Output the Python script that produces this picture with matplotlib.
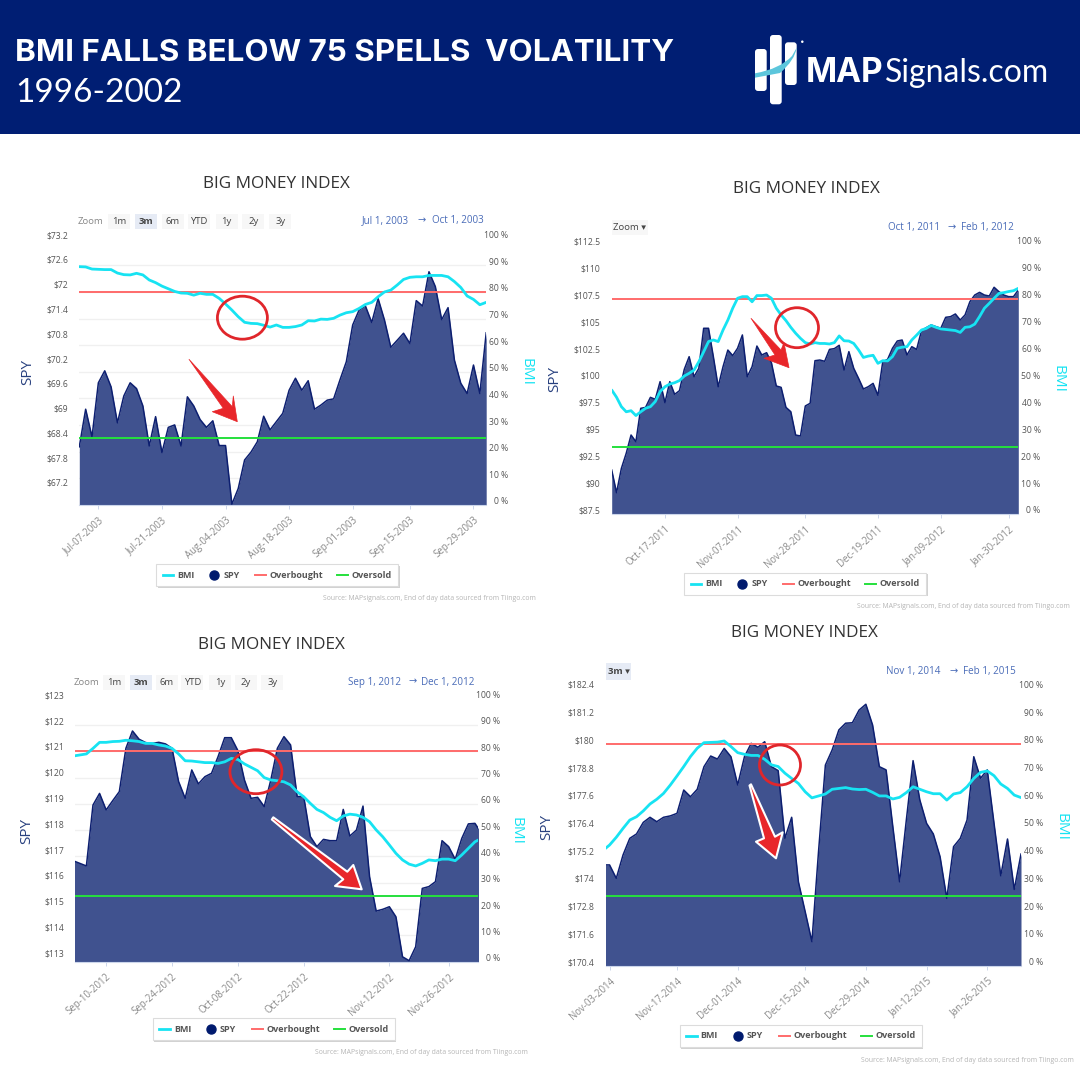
import numpy as np
import matplotlib
matplotlib.use("Agg")
import matplotlib.pyplot as plt
from matplotlib.patches import Rectangle, Ellipse, Polygon, FancyBboxPatch, PathPatch
from matplotlib.path import Path
from matplotlib.transforms import ScaledTranslation

# SPY closes and BMI readings, one value per trading day
spy_2003 = [68.16, 69.07, 68.40, 69.71, 70.00, 69.61, 68.74, 69.39, 69.71, 69.57, 69.15, 68.18, 68.89,
            68.02, 68.63, 68.69, 68.18, 69.37, 69.15, 68.82, 68.63, 68.79, 68.19, 68.19, 66.77, 67.15,
            67.84, 68.03, 68.28, 68.90, 68.57, 68.77, 68.97, 69.53, 69.82, 69.53, 69.76, 69.07, 69.17,
            69.29, 69.32, 69.78, 70.22, 71.11, 71.47, 71.57, 71.17, 71.75, 71.23, 70.57, 70.74, 70.91,
            70.66, 71.70, 71.57, 72.40, 72.04, 71.24, 71.53, 70.26, 69.70, 69.45, 70.14, 69.45, 70.92]
bmi_2003 = [89.5, 89.4, 88.6, 88.5, 88.4, 88.4, 87.1, 86.5, 86.4, 87.0, 86.4, 84.5, 83.5, 82.2, 81.2, 80.2,
            79.6, 79.5, 78.8, 79.5, 79.1, 79.1, 77.6, 75.5, 73.2, 70.7, 68.6, 68.2, 68.1, 67.5, 66.8, 67.6,
            66.7, 66.7, 67.0, 67.6, 69.2, 69.1, 69.8, 69.7, 70.1, 71.3, 72.2, 72.6, 73.8, 75.3, 76.1, 78.2,
            80.0, 80.7, 82.6, 84.7, 85.5, 85.7, 85.7, 86.2, 86.2, 86.2, 85.7, 83.9, 81.7, 78.5, 77.2, 75.2, 76.1]

spy_2011 = [91.59, 89.48, 91.74, 93.14, 94.84, 94.22, 97.32, 97.41, 98.34, 98.16, 99.80, 97.85, 99.80,
            98.62, 98.96, 100.95, 102.12, 100.26, 101.04, 104.76, 104.76, 102.12, 99.33, 101.19, 102.74,
            102.22, 102.90, 104.14, 100.26, 101.19, 103.11, 102.28, 102.49, 101.56, 99.40, 99.27, 97.41,
            97.01, 94.84, 94.75, 97.54, 97.79, 101.75, 101.81, 101.69, 102.80, 102.87, 103.18, 100.88,
            102.59, 101.04, 100.11, 99.12, 99.33, 99.64, 98.53, 101.66, 101.87, 102.90, 103.58, 103.67,
            102.28, 103.05, 102.80, 104.54, 104.82, 105.07, 104.91, 104.76, 105.78, 105.84, 106.09, 105.53,
            106.00, 107.23, 107.85, 108.10, 107.85, 107.76, 108.57, 108.16, 107.85, 107.70, 107.70, 108.32]
bmi_2011 = [46.1, 43.4, 39.9, 38.0, 38.4, 36.6, 38.0, 39.3, 39.9, 41.8, 45.5, 47.3, 48.3, 48.8, 49.6, 51.3,
            52.3, 53.5, 56.6, 60.3, 64.1, 64.7, 64.1, 68.4, 72.1, 76.5, 80.2, 80.8, 80.8, 78.9, 81.2, 81.2,
            81.4, 80.2, 76.5, 74.0, 71.9, 69.4, 67.2, 65.3, 63.7, 63.2, 63.7, 63.4, 63.4, 63.2, 63.7, 66.2,
            64.4, 64.3, 63.4, 61.0, 58.2, 58.7, 59.0, 56.0, 57.0, 56.9, 58.5, 61.6, 62.0, 62.2, 64.7, 66.5,
            68.4, 69.0, 70.1, 69.4, 68.8, 68.6, 68.4, 68.2, 67.5, 69.4, 69.6, 70.6, 73.4, 76.5, 78.3, 80.2,
            82.0, 82.3, 82.7, 83.0, 83.9]

spy_2012 = [116.72, 116.62, 116.52, 118.88, 119.33, 118.69, 119.05, 119.40, 121.08, 121.75, 121.43, 121.30,
            121.27, 121.31, 121.25, 121.08, 119.79, 119.14, 120.24, 119.70, 119.98, 120.11, 120.76, 121.49,
            121.49, 120.99, 119.85, 119.14, 119.18, 118.82, 119.85, 121.08, 121.53, 121.21, 119.21, 119.21,
            117.66, 117.27, 117.55, 117.50, 117.50, 118.71, 117.68, 117.91, 118.84, 116.10, 114.77, 114.84,
            114.94, 114.55, 113.00, 112.85, 113.39, 115.65, 115.72, 115.91, 117.50, 117.27, 116.78, 117.59,
            118.15, 118.17, 117.78]
bmi_2012 = [78.2, 78.6, 79.0, 81.1, 83.4, 83.4, 83.7, 83.8, 84.2, 84.0, 83.7, 83.0, 83.0, 82.4, 82.0, 81.1,
            79.0, 76.4, 76.3, 76.0, 75.7, 75.7, 75.4, 76.0, 77.3, 76.9, 75.2, 73.9, 72.6, 70.0, 69.1, 68.8,
            68.4, 67.2, 64.6, 62.7, 60.2, 57.9, 56.7, 54.9, 53.6, 55.4, 56.1, 55.8, 54.9, 53.2, 50.1, 47.5,
            44.4, 41.2, 38.7, 37.1, 36.4, 37.4, 38.7, 38.4, 39.0, 39.0, 38.4, 40.6, 43.1, 45.6, 46.9]

spy_2014 = [174.76, 174.76, 174.18, 175.19, 175.91, 176.10, 176.60, 176.82, 176.63, 176.82, 176.88, 176.99,
            178.00, 177.71, 178.03, 179.01, 179.47, 179.34, 179.80, 179.44, 178.22, 179.44, 180.02, 179.85,
            180.09, 179.01, 178.84, 175.91, 176.82, 174.03, 172.74, 171.44, 175.40, 179.08, 179.73, 180.60,
            180.89, 180.91, 181.46, 181.71, 180.81, 179.01, 178.87, 176.41, 174.03, 176.70, 179.27, 177.57,
            176.56, 176.10, 175.12, 173.31, 175.55, 175.91, 176.70, 179.44, 178.51, 178.87, 176.56, 174.29,
            175.88, 173.70, 175.23]
bmi_2014 = [41.5, 43.5, 46.3, 49.5, 52.5, 53.7, 55.8, 58.3, 60.0, 62.1, 65.1, 68.4, 71.8, 75.4, 78.4, 80.4,
            80.5, 80.6, 81.0, 79.0, 76.8, 76.2, 75.8, 75.8, 74.4, 72.4, 71.8, 69.4, 67.5, 65.7, 62.7, 60.5,
            61.2, 61.9, 63.6, 63.9, 64.2, 63.7, 63.5, 63.6, 62.5, 61.2, 61.2, 60.1, 60.7, 62.4, 64.5, 63.6,
            62.7, 62.0, 62.0, 59.7, 61.9, 62.4, 64.5, 67.5, 69.7, 70.2, 68.5, 65.5, 63.9, 61.5, 60.6]

# left axis labels
spy_ticks_2003 = [73.2, 72.6, 72, 71.4, 70.8, 70.2, 69.6, 69, 68.4, 67.8, 67.2]
spy_ticks_2011 = [112.5, 110, 107.5, 105, 102.5, 100, 97.5, 95, 92.5, 90, 87.5]
spy_ticks_2012 = [123, 122, 121, 120, 119, 118, 117, 116, 115, 114, 113]
spy_ticks_2014 = [182.4, 181.2, 180, 178.8, 177.6, 176.4, 175.2, 174, 172.8, 171.6, 170.4]

# dates under each chart
dates_2003 = ["Jul-07-2003", "Jul-21-2003", "Aug-04-2003", "Aug-18-2003", "Sep-01-2003", "Sep-15-2003", "Sep-29-2003"]
dates_2011 = ["Oct-17-2011", "Nov-07-2011", "Nov-28-2011", "Dec-19-2011", "Jan-09-2012", "Jan-30-2012"]
dates_2012 = ["Sep-10-2012", "Sep-24-2012", "Oct-08-2012", "Oct-22-2012", "Nov-12-2012", "Nov-26-2012"]
dates_2014 = ["Nov-03-2014", "Nov-17-2014", "Dec-01-2014", "Dec-15-2014", "Dec-29-2014", "Jan-12-2015", "Jan-26-2015"]

# trading day number of each date above
days_2003 = [3, 13, 23, 33, 43, 52, 62]
days_2011 = [11, 26, 40, 55, 68, 82]
days_2012 = [5, 15, 25, 35, 48, 57]
days_2014 = [1, 11, 20, 30, 39, 48, 57]

overbought = 80
oversold = 25
bmi_ticks = [0, 10, 20, 30, 40, 50, 60, 70, 80, 90, 100]

NAVY = "#001e73"
AREA = "#40528f"
SPY_LINE = "#0d1f70"
CYAN = "#17e3f2"
RED_LINE = "#ff6b6b"
GREEN_LINE = "#25e03c"
ARROW = "#e8262a"
LABEL = "#555555"
FONT = "Open Sans"

plt.rcParams["font.family"] = [FONT, "DejaVu Sans"]

SIZE = 1080
fig = plt.figure(figsize=(10.8, 10.8), dpi=100, facecolor="white")


def add_panel(box, spy, bmi, spy_ticks, spy_lim, days, dates, xlim, spy_fmt):
    # box is left, top, right, bottom in pixels of the picture
    left, top, right, bottom = box
    ax = fig.add_axes([left / SIZE, 1 - bottom / SIZE, (right - left) / SIZE, (bottom - top) / SIZE])
    ax.set_xlim(*xlim)
    ax.set_ylim(*spy_lim)
    ax.fill_between(np.arange(len(spy)), spy, spy_lim[0], color=AREA, lw=0, zorder=2)
    ax.plot(np.arange(len(spy)), spy, color=SPY_LINE, lw=1.1, zorder=3)

    for s in ["top", "left", "right"]:
        ax.spines[s].set_visible(False)
    ax.spines["bottom"].set_color("#ccd6eb")

    ax.set_xticks(days)
    ax.set_xticklabels(dates, rotation=42, ha="right", va="top", rotation_mode="anchor",
                       fontsize=6.9, color="#8a8a8a")
    ax.tick_params(axis="x", length=3, width=0.7, color="#ccd6eb", pad=4)

    # gridlines belong to the percent axis, labels to the dollar axis
    ax.set_yticks(spy_ticks)
    ax.set_yticklabels([spy_fmt % v for v in spy_ticks], fontsize=6.2, color=LABEL)
    ax.set_yticks(np.linspace(spy_lim[0], spy_lim[1], 11), minor=True)
    ax.grid(True, axis="y", which="minor", color="#f0f0f0", lw=1)
    ax.set_axisbelow(True)
    ax.tick_params(axis="y", which="both", length=0, pad=8)

    ax2 = ax.twinx()
    ax2.set_ylim(0, 100)
    ax2.plot(np.arange(len(bmi)), bmi, color=CYAN, lw=2, zorder=4, solid_capstyle="round")
    ax2.axhline(overbought, color=RED_LINE, lw=1.4, zorder=3)
    ax2.axhline(oversold, color=GREEN_LINE, lw=1.4, zorder=3)
    for s in ax2.spines.values():
        s.set_visible(False)
    ax2.set_yticks(bmi_ticks)
    ax2.set_yticklabels(["%d %%" % v for v in bmi_ticks], fontsize=6.2, color=LABEL, ha="right")
    ax2.tick_params(axis="y", length=0, pad=16)

    # highcharts puts its labels a little above the line
    up = ScaledTranslation(0, 4 / 100, fig.dpi_scale_trans)
    for lab in ax.get_yticklabels() + ax2.get_yticklabels():
        lab.set_transform(lab.get_transform() + up)
    return ax


add_panel((79.3, 238.7, 486.2, 505), spy_2003, bmi_2003, spy_ticks_2003, (66.75, 73.2), days_2003, dates_2003, (0, 64), "$%g")
add_panel((611.7, 245, 1018.3, 514), spy_2011, bmi_2011, spy_ticks_2011, (87.5, 112.5), days_2011, dates_2011, (0, 84), "$%g")
add_panel((75.2, 698.7, 477.6, 961.7), spy_2012, bmi_2012, spy_ticks_2012, (112.81, 123), days_2012, dates_2012, (0.3, 61.4), "$%g")
add_panel((605.5, 688.3, 1021, 965.7), spy_2014, bmi_2014, spy_ticks_2014, (170.4, 182.4), days_2014, dates_2014, (0.4, 62), "$%g")

# everything else sits on one sheet in picture pixels
top = fig.add_axes([0, 0, 1, 1], zorder=10)
top.set_xlim(0, SIZE)
top.set_ylim(SIZE, 0)
top.axis("off")
top.patch.set_alpha(0)

# banner
top.add_patch(Rectangle((0, 0), SIZE, 134, color=NAVY, lw=0))
top.text(15, 53, "BMI FALLS BELOW 75 SPELLS  VOLATILITY", color="white", fontsize=22.6,
         fontweight="bold", family="Inter", va="center", ha="left")
top.text(15, 93, "1996-2002", color="white", fontsize=24, family="Lato", va="center", ha="left")

# logo
for x0, x1, y0, y1 in [(755, 766.7, 49, 91), (770, 781.7, 35, 104.3), (785, 796.7, 42.3, 85)]:
    top.add_patch(FancyBboxPatch((x0 + 3, y0 + 3), x1 - x0 - 6, y1 - y0 - 6,
                                 boxstyle="round,pad=3", fc="white", ec="none"))
swoosh = Path([(755, 73.3), (780, 69), (792, 56), (796.7, 47.7), (795, 60), (780, 73), (755, 77.7)],
              [Path.MOVETO, Path.CURVE3, Path.CURVE3, Path.LINETO, Path.CURVE3, Path.CURVE3, Path.LINETO])
top.add_patch(PathPatch(swoosh, fc="#5cc6dc", ec="none"))
top.add_patch(Ellipse((802.3, 41.7), 2.5, 2.5, fc="white", ec="none"))
top.text(805.7, 81.7, "MAP", color="white", fontsize=24, fontweight="bold", family="Inter", va="baseline", ha="left")
top.text(885, 81.7, "Signals.com", color="white", fontsize=23, family="Lato", va="baseline", ha="left")


def chart_title(x, y):
    top.text(x, y, "BIG MONEY INDEX", color="#333333", fontsize=12.3, ha="center", va="center")


def side_labels(x_spy, x_bmi, y):
    top.text(x_spy, y, "SPY", color="#28407f", fontsize=11, rotation=90, ha="center", va="center")
    top.text(x_bmi, y, "BMI", color="#17e3f2", fontsize=11, rotation=270, ha="center", va="center")


def legend_box(x, y):
    top.add_patch(Rectangle((x + 1.5, y + 1.5), 242, 22, fc="#d2d2d2", ec="none"))
    top.add_patch(Rectangle((x, y), 242, 22, fc="white", ec="#dcdcdc", lw=0.8))
    ym = y + 11
    top.plot([x + 6.5, x + 17], [ym, ym], color=CYAN, lw=2)
    top.plot([x + 58], [ym], "o", color="#001a6e", ms=6.5)
    top.plot([x + 99, x + 110], [ym, ym], color=RED_LINE, lw=1.4)
    top.plot([x + 181, x + 192], [ym, ym], color=GREEN_LINE, lw=1.4)
    for tx, name in [(21, "BMI"), (67, "SPY"), (113.5, "Overbought"), (195.5, "Oversold")]:
        top.text(x + tx, ym, name, fontsize=6.5, fontweight="bold", color="#555555", va="center", ha="left")


def source_note(x, y):
    top.text(x, y, "Source: MAPsignals.com, End of day data sourced from Tiingo.com", fontsize=4.95,
             color="#b5b5b5", ha="right", va="center")


def range_dates(xs, y, start, end):
    for x, s in zip(xs, [start, "\u2192", end]):
        top.text(x, y, s, fontsize=7.1, color="#4a6cb8", ha="center", va="center")


def zoom_row(xs, y):
    names = ["Zoom", "1m", "3m", "6m", "YTD", "1y", "2y", "3y"]
    for x, s in zip(xs, names):
        if s != "Zoom":
            fc = "#e6ebf5" if s == "3m" else "#f7f7f7"
            top.add_patch(Rectangle((x - 11, y - 7.5), 22, 15, fc=fc, ec="none"))
        top.text(x, y, s, fontsize=6.8, color="#888888" if s == "Zoom" else "#444444",
                 fontweight="bold" if s == "3m" else "normal", ha="center", va="center")


def zoom_drop(x0, x1, y0, y1, s, fc):
    top.add_patch(Rectangle((x0, y0), x1 - x0, y1 - y0, fc=fc, ec="none"))
    top.text((x0 + x1) / 2, (y0 + y1) / 2, s, fontsize=6.8, color="#444444", ha="center", va="center",
             fontweight="bold" if s.startswith("3m") else "normal")


def ring(x, y, w, h):
    top.add_patch(Ellipse((x, y), w, h, fc="none", ec="#e0262b", lw=2))


def arrow(pts, outline=False):
    top.add_patch(Polygon(pts, closed=True, fc=ARROW, ec="white" if outline else ARROW,
                          lw=1.5 if outline else 0.5, joinstyle="round"))


chart_title(276.6, 184)
chart_title(806, 189)
chart_title(271, 645)
chart_title(804, 632.7)

side_labels(27.6, 526, 372)
side_labels(554.5, 1058, 379)
side_labels(26.5, 515.5, 830.7)
side_labels(547, 1061, 826.7)

legend_box(156.2, 564)
legend_box(684.1, 572.7)
legend_box(152.8, 1018.3)
legend_box(679.7, 1025)

source_note(536, 598)
source_note(1070, 607)
source_note(528, 1052)
source_note(1074, 1060)

zoom_row([90.7, 119, 145.9, 172.8, 199, 226.6, 253.4, 280.3], 221.7)
zoom_row([86.6, 114, 140.7, 166.9, 192.4, 220, 245.9, 272.4], 682.3)
zoom_drop(611.7, 648, 220, 235, "Zoom \u25be", "#f7f7f7")
zoom_drop(606, 631, 663, 680, "3m \u25be", "#e6ebf5")

range_dates([385, 421.7, 457.6], 221, "Jul 1, 2003", "Oct 1, 2003")
range_dates([914, 952, 987.6], 227.3, "Oct 1, 2011", "Feb 1, 2012")
range_dates([375, 413, 447.6], 682, "Sep 1, 2012", "Dec 1, 2012")
range_dates([913.4, 953.8, 989.3], 671.3, "Nov 1, 2014", "Feb 1, 2015")

ring(242.4, 317.7, 50, 43)
ring(797, 327.7, 43, 40)
ring(255.9, 771.7, 52, 44)
ring(780, 765, 41, 40)

arrow([(189, 359.3), (232.3, 406.7), (233.3, 396), (237.3, 421.7), (212.3, 411.7), (223.3, 408.3)])
arrow([(751, 318.3), (781, 350), (784, 342.7), (789, 367.7), (764, 358.3), (775, 355)])
arrow([(273.3, 817.3), (347.3, 871.7), (353.3, 865), (361.7, 889.3), (335, 886), (343.3, 879.3), (271.8, 819.5)], outline=True)
arrow([(751, 784.3), (775, 836.7), (782.7, 832.3), (776, 858.3), (756, 841.7), (764, 838.3), (749.5, 785.5)], outline=True)

fig.savefig("out.png", dpi=100)
